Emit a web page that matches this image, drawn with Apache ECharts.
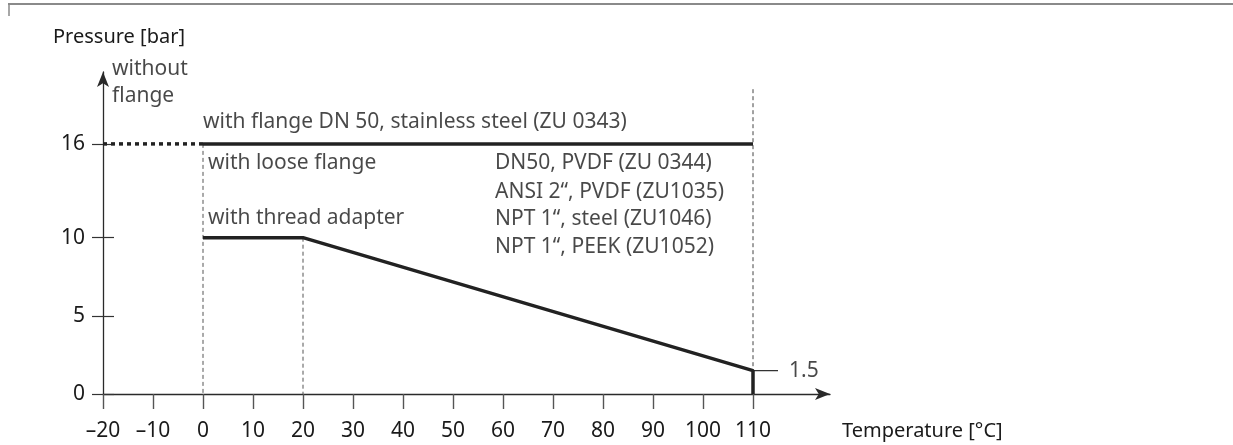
<!DOCTYPE html>
<html><head><meta charset="utf-8">
<script src="https://cdn.jsdelivr.net/npm/echarts@6/dist/echarts.min.js"></script>
<style>html,body{margin:0;padding:0;background:#fff}#c{width:1233px;height:445px}</style>
</head><body><div id="c"></div>
<script>
var FONT = '"Noto Sans", "Open Sans", sans-serif';
// ticks and labels
var xTicks = [-20, -10, 0, 10, 20, 30, 40, 50, 60, 70, 80, 90, 100, 110];
var yTicks = [0, 5, 10, 16];
// curves
var withoutFlange = [[-20, 16], [0, 16]];
var flangeDN50 = [[0, 16], [110, 16]];
var threadAdapter = [[0, 10], [20, 10], [110, 1.5], [110, 0]];
var guide0 = [[0, 16], [0, 0]];
var guide20 = [[20, 10], [20, 0]];
var guide110 = [[110, 19.5], [110, 1.5]];
var mark15 = [[110, 1.5], [115, 1.5]];
// annotations: [x, y, text]
var notes = [
  [-18.2, 19.93, 'without\nflange'],
  [0, 17.4, 'with flange DN 50, stainless steel (ZU 0343)'],
  [1, 14.8, 'with loose flange'],
  [1, 11.25, 'with thread adapter'],
  [58.4, 14.8, 'DN50, PVDF (ZU 0344)'],
  [58.4, 12.95, 'ANSI 2\u201C, PVDF (ZU1035)'],
  [58.4, 11.2, 'NPT 1\u201C, steel (ZU1046)'],
  [58.4, 9.4, 'NPT 1\u201C, PEEK (ZU1052)'],
  [117.2, 1.45, '1.5']
];

var INK = '#1a1a1a';
function line(data, w, type, color) {
  return {type: 'line', data: data, showSymbol: false, symbol: 'none', silent: true,
    lineStyle: {width: w, type: type, color: color}, z: 3};
}

var chart = echarts.init(document.getElementById('c'), null, {renderer: 'canvas'});
chart.setOption({
  animation: false,
  backgroundColor: '#fff',
  textStyle: {fontFamily: FONT},
  grid: {left: 103, right: 403, top: 72, bottom: 51, containLabel: false},
  xAxis: {
    type: 'value', min: -20, max: 125.4, interval: 10,
    splitLine: {show: false},
    axisLine: {show: true, onZero: false, symbol: ['none', 'arrow'], symbolSize: [9, 15],
      lineStyle: {color: '#2a2a2a', width: 1.3}},
    axisTick: {show: true, length: 15, customValues: xTicks, lineStyle: {color: '#555', width: 1.4}},
    axisLabel: {customValues: xTicks, margin: 27, fontSize: 21, color: INK, fontFamily: FONT,
      formatter: function (v) { return v < 0 ? '\u2013' + Math.abs(v) : String(v); }}
  },
  yAxis: [{
    type: 'value', min: 0, max: 20.6, interval: 5,
    splitLine: {show: false},
    axisLine: {show: true, onZero: false, symbol: ['none', 'arrow'], symbolSize: [9, 15],
      lineStyle: {color: '#2a2a2a', width: 1.3}},
    axisTick: {show: true, length: 11, customValues: yTicks, lineStyle: {color: '#333', width: 1.2}},
    axisLabel: {customValues: yTicks, margin: 18, fontSize: 21, color: INK, fontFamily: FONT}
  }, {
    type: 'value', min: 0, max: 20.6, interval: 5, position: 'left',
    splitLine: {show: false},
    axisLine: {show: false, onZero: false},
    axisTick: {show: true, inside: true, length: 11, customValues: yTicks, lineStyle: {color: '#333', width: 1.2}},
    axisLabel: {show: false}
  }],
  graphic: [
    {type: 'line', shape: {x1: 8, y1: 4, x2: 1233, y2: 4}, style: {stroke: '#8a8a8a', lineWidth: 2}},
    {type: 'line', shape: {x1: 9, y1: 4, x2: 9, y2: 16}, style: {stroke: '#8a8a8a', lineWidth: 1.5}},
    {type: 'text', left: 53, top: 27, style: {text: 'Pressure [bar]', font: '20px ' + FONT, fill: INK}},
    {type: 'text', left: 842, top: 421, style: {text: 'Temperature [\u00B0C]', font: '20px ' + FONT, fill: INK}}
  ],
  series: [
    line(guide0, 1, [4, 3], '#555'),
    line(guide20, 1, [4, 3], '#555'),
    line(guide110, 1, [4, 3], '#444'),
    line(mark15, 1.2, 'solid', '#333'),
    line(withoutFlange, 3.5, [4, 4], '#222'),
    line(flangeDN50, 3.5, 'solid', '#222'),
    line(threadAdapter, 3.5, 'solid', '#222'),
    {
      type: 'scatter', symbolSize: 0, silent: true, z: 5,
      data: notes.map(function (n) { return {value: [n[0], n[1]], name: n[2]}; }),
      label: {show: true, position: 'right', distance: 0, formatter: '{b}', lineHeight: 27,
        fontSize: 21, color: INK, fontFamily: FONT, align: 'left', verticalAlign: 'middle'}
    }
  ]
});
</script></body></html>
